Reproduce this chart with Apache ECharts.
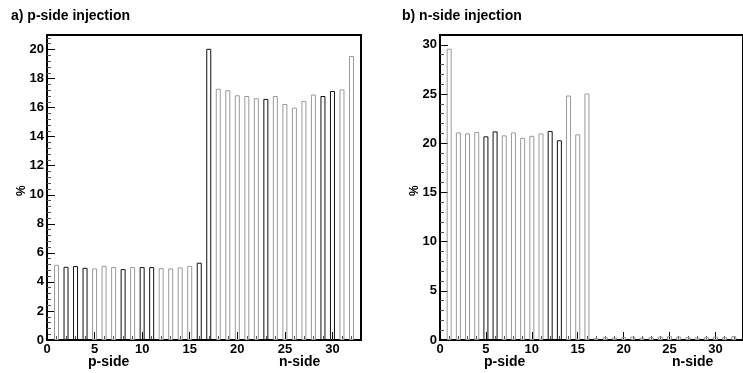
<!DOCTYPE html>
<html>
<head>
<meta charset="utf-8">
<script src="https://cdn.jsdelivr.net/npm/echarts@6/dist/echarts.min.js"></script>
<style>
  html, body { margin: 0; padding: 0; background: #fff; }
  #chart { width: 743px; height: 373px; }
</style>
</head>
<body>
<div id="chart"></div>
<script>
// channel index (1..16 p-side, 17..32 n-side)
const CHANNELS = [1, 2, 3, 4, 5, 6, 7, 8, 9, 10, 11, 12, 13, 14, 15, 16,
  17, 18, 19, 20, 21, 22, 23, 24, 25, 26, 27, 28, 29, 30, 31, 32];

// a) p-side injection, %
const P_INJ = [5.18, 5.04, 5.09, 4.97, 4.93, 5.11, 5.02, 4.88, 5.02, 5.02, 5.02, 4.95, 4.93, 5.0, 5.1, 5.32,
  20.05, 17.3, 17.2, 16.85, 16.8, 16.65, 16.6, 16.8, 16.25, 16.0, 16.45, 16.9, 16.8, 17.15, 17.25, 19.55];

// b) n-side injection, %
const N_INJ = [29.6, 21.1, 21.0, 21.15, 20.7, 21.2, 20.8, 21.1, 20.55, 20.75, 21.0, 21.25, 20.3, 24.85, 20.9, 25.05,
  0.2, 0.3, 0.25, 0.3, 0.35, 0.25, 0.3, 0.35, 0.4, 0.35, 0.3, 0.25, 0.3, 0.35, 0.3, 0.4];

const X_TICKS = { min: 0, max: 33, interval: 5 };
const Y_TICKS_A = { min: 0, max: 21, interval: 2 };
const Y_TICKS_B = { min: 0, max: 31, interval: 5 };

// outlines that come out dark in the scan; the rest look grey
const DARK_A = [2, 3, 4, 8, 10, 11, 16, 17, 23, 29, 30];
const DARK_B = [5, 6, 12, 13];

const FONT = '"Liberation Sans", Arial, sans-serif';

function bars(values, dark) {
  return CHANNELS.map((c, i) => ({
    value: [c, values[i]],
    itemStyle: { borderColor: dark.includes(c) ? '#111' : '#9a9a9a' },
  }));
}

function xAxis(gridIndex) {
  return {
    type: 'value', gridIndex, ...X_TICKS,
    axisLine: { onZero: false, lineStyle: { color: '#000', width: 2 } },
    axisTick: { inside: true, length: 8, lineStyle: { color: '#000', width: 1 } },
    minorTick: { show: true, splitNumber: 5, length: 4, lineStyle: { color: '#555' } },
    axisLabel: { showMaxLabel: false, margin: 3, color: '#000', fontFamily: FONT, fontWeight: 'bold', fontSize: 13 },
    splitLine: { show: false },
  };
}

function yAxis(gridIndex, ticks) {
  return {
    type: 'value', gridIndex, ...ticks,
    axisLine: { lineStyle: { color: '#000', width: 2 } },
    axisTick: { inside: true, length: 8, lineStyle: { color: '#000', width: 1 } },
    minorTick: { show: true, splitNumber: 5, length: 4, lineStyle: { color: '#555' } },
    axisLabel: { showMaxLabel: false, margin: 3, color: '#000', fontFamily: FONT, fontWeight: 'bold', fontSize: 13 },
    splitLine: { show: false },
  };
}

function barSeries(idx, values, dark) {
  return {
    type: 'bar', xAxisIndex: idx, yAxisIndex: idx,
    data: bars(values, dark),
    barWidth: 5,
    itemStyle: { color: 'rgba(0,0,0,0)', borderWidth: 1 },
    silent: true,
  };
}

function text(t, left, top, size) {
  return {
    type: 'text', left, top,
    style: { text: t, fill: '#000', font: 'bold ' + (size || 13) + 'px ' + FONT },
  };
}

const chart = echarts.init(document.getElementById('chart'));
chart.setOption({
  animation: false,
  grid: [
    { left: 47, top: 35, width: 314, height: 305, show: true, borderColor: '#000', borderWidth: 2 },
    { left: 440, top: 35, width: 316, height: 305, show: true, borderColor: '#000', borderWidth: 2 },
  ],
  xAxis: [xAxis(0), xAxis(1)],
  yAxis: [yAxis(0, Y_TICKS_A), yAxis(1, Y_TICKS_B)],
  series: [barSeries(0, P_INJ, DARK_A), barSeries(1, N_INJ, DARK_B)],
  graphic: [
    text('a) p-side injection', 11, 9, 14),
    text('b) n-side injection', 402, 9, 14),
    text('p-side', 88, 355, 14),
    text('n-side', 279, 355, 14),
    text('p-side', 484, 355, 14),
    text('n-side', 672, 355, 14),
    { type: 'text', x: 16, y: 196, rotation: Math.PI / 2,
      style: { text: '%', fill: '#000', font: 'bold 12px ' + FONT } },
    { type: 'text', x: 409, y: 196, rotation: Math.PI / 2,
      style: { text: '%', fill: '#000', font: 'bold 12px ' + FONT } },
  ],
});
</script>
</body>
</html>
